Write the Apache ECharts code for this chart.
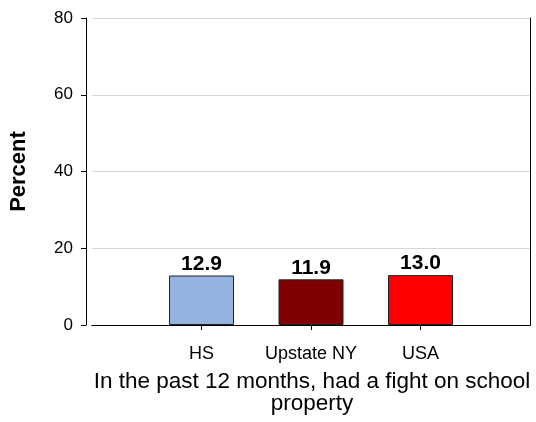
<!DOCTYPE html>
<html>
<head>
<meta charset="utf-8">
<script src="https://cdn.jsdelivr.net/npm/echarts@6/dist/echarts.min.js"></script>
<style>
  html, body { margin: 0; padding: 0; background: #fff; }
  #chart { width: 536px; height: 422px; }
</style>
</head>
<body>
<div id="chart"></div>
<script>
// Category slots: empty slots at both ends leave room around the three bars
const categories = ['', 'HS', 'Upstate NY', 'USA', ''];
const percentValues = [null, 12.9, 11.9, 13.0, null];
const barColors = [null, '#95B3E0', '#800000', '#FF0000', null];
const yTicks = [0, 20, 40, 60, 80];
const axisTitle = 'In the past 12 months, had a fight on school\nproperty';
const valueTitle = 'Percent';

const FONT = '"Liberation Sans", Arial, sans-serif';

const chart = echarts.init(document.getElementById('chart'), null, { renderer: 'canvas' });

const barData = percentValues.map((v, i) => (v === null ? null : {
  value: v,
  itemStyle: { color: barColors[i] }
}));

chart.setOption({
  animation: false,
  backgroundColor: '#ffffff',
  grid: {
    left: 92, right: 6, top: 18, bottom: 97,
    containLabel: false,
    outerBoundsMode: 'none'
  },
  xAxis: [
    {
      type: 'category',
      data: categories,
      boundaryGap: false,
      axisLine: { lineStyle: { color: '#000', width: 1 } },
      axisTick: {
        length: 5,
        lineStyle: { color: '#000' },
        interval: (idx) => idx > 0 && idx < categories.length - 1
      },
      axisLabel: { color: '#000', fontFamily: FONT, fontSize: 18, margin: 20, interval: 0 },
      splitLine: { show: false },
      name: axisTitle,
      nameLocation: 'middle',
      nameGap: 46,
      nameTextStyle: {
        color: '#000', fontFamily: FONT, fontSize: 22.5, lineHeight: 22,
        verticalAlign: 'top', align: 'center', padding: [0, 0, 0, 2]
      }
    },
    {
      type: 'category',
      data: categories,
      position: 'top',
      boundaryGap: false,
      axisLine: { lineStyle: { color: '#000', width: 1 } },
      axisTick: { show: false },
      axisLabel: { show: false }
    }
  ],
  yAxis: [
    {
      type: 'value',
      min: yTicks[0],
      max: yTicks[yTicks.length - 1],
      interval: yTicks[1] - yTicks[0],
      offset: 6,
      axisLine: { show: true, lineStyle: { color: '#000', width: 1 } },
      axisTick: { show: true, length: 5, lineStyle: { color: '#000' } },
      axisLabel: { color: '#000', fontFamily: FONT, fontSize: 17, margin: 13 },
      splitLine: {
        show: true,
        lineStyle: { color: '#d6d6d6', width: 1 }
      },
      name: valueTitle,
      nameLocation: 'middle',
      nameRotate: 90,
      nameGap: 56,
      nameTextStyle: { color: '#000', fontFamily: FONT, fontSize: 22, fontWeight: 'bold' }
    },
    {
      type: 'value',
      position: 'right',
      min: yTicks[0],
      max: yTicks[yTicks.length - 1],
      interval: yTicks[1] - yTicks[0],
      axisLine: { show: true, lineStyle: { color: '#000', width: 1 } },
      axisTick: { show: false },
      axisLabel: { show: false },
      splitLine: { show: false }
    }
  ],
  series: [
    {
      type: 'bar',
      data: barData,
      barWidth: 65,
      itemStyle: { borderColor: '#222', borderWidth: 1 },
      label: {
        show: true,
        position: 'top',
        distance: 1,
        color: '#000',
        fontFamily: FONT,
        fontSize: 21,
        fontWeight: 'bold',
        formatter: (p) => p.value.toFixed(1)
      }
    }
  ]
});
</script>
</body>
</html>
